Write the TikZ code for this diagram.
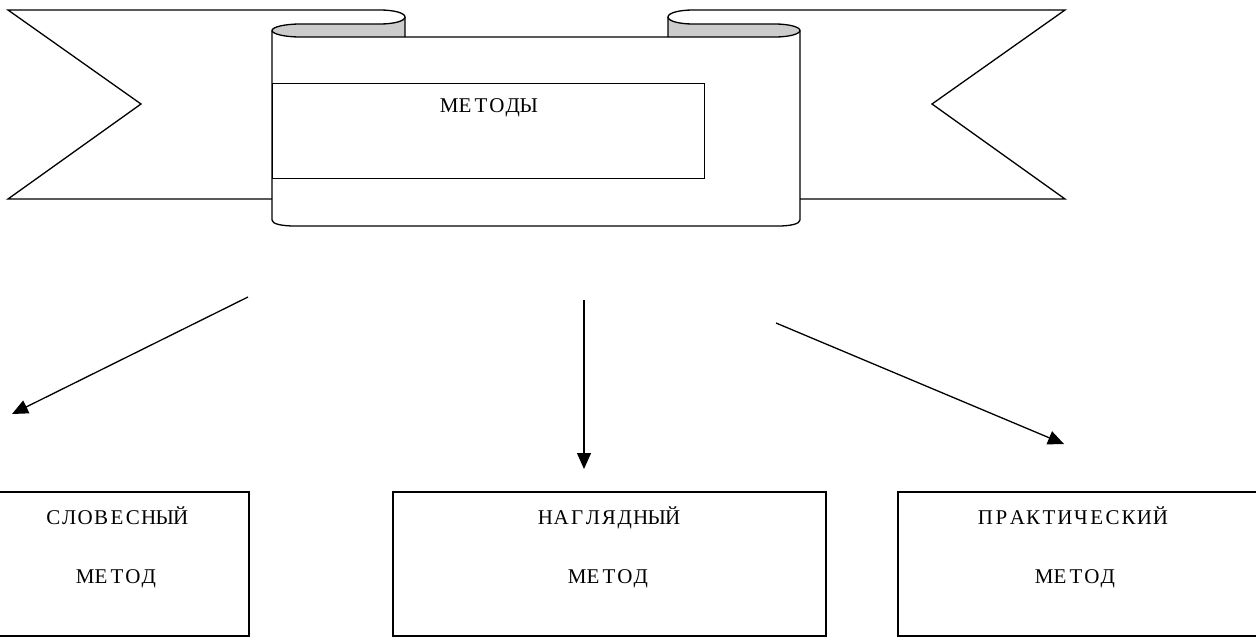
\documentclass[tikz,border=0pt]{standalone}
\usepackage{fontspec}
\usetikzlibrary{arrows.meta}
\newfontfamily\labelfont{Liberation Serif}
% typewriter-like setting: every letter sits in a cell of the same width
\newcommand\typed[1]{\typedloop#1\relax}
\def\typedloop#1{\ifx#1\relax\else\makebox[15.9pt]{#1}\expandafter\typedloop\fi}
\begin{document}
\begin{tikzpicture}[x=1pt,y=-1pt,line width=1.3pt,line join=miter,
  lbl/.style={font=\labelfont\fontsize{21}{25}\selectfont,anchor=base,inner sep=0pt},
  box/.style={draw,line width=1.5pt,inner sep=0pt,anchor=north west},
  arr/.style={-{Triangle[length=16pt,width=14pt]},line width=1.3pt},
  curl/.style={fill=black!20,draw=none}]
\useasboundingbox (0,0) rectangle (1256,637);

% rolled-up ends of the scroll
\fill[curl] (405,17) .. controls (405,21) and (394,24) .. (380,24) -- (300,24)
  .. controls (285,24) and (272,27) .. (272,30.5)
  .. controls (272,34) and (285,37) .. (300,37) -- (405,37) -- cycle;
\fill[curl] (668,17) .. controls (668,21) and (679,24) .. (693,24) -- (775,24)
  .. controls (789,24) and (800,27) .. (800,30.5)
  .. controls (800,34) and (789,37) .. (775,37) -- (668,37) -- cycle;

% left wing of the ribbon
\draw (272,199) -- (8,199) -- (141,104) -- (8,10) -- (380,10)
  .. controls (394,10) and (405,13) .. (405,17) -- (405,37);
\draw (405,17) .. controls (405,21) and (394,24) .. (380,24) -- (300,24)
  .. controls (285,24) and (272,27) .. (272,30.5)
  .. controls (272,34) and (285,37) .. (300,37) -- (668,37);

% right wing of the ribbon
\draw (800,199) -- (1065,199) -- (932,104) -- (1065,10) -- (693,10)
  .. controls (679,10) and (668,13) .. (668,17) -- (668,37);
\draw (668,17) .. controls (668,21) and (679,24) .. (693,24) -- (775,24)
  .. controls (789,24) and (800,27) .. (800,30.5)
  .. controls (800,34) and (789,37) .. (775,37) -- (668,37);

% body of the scroll
\draw (272,30.5) -- (272,220) .. controls (272,224) and (282,226) .. (295,226)
  -- (778,226) .. controls (790,226) and (800,224) .. (800,220) -- (800,30.5);

% title panel
\node[box,line width=1.3pt,minimum width=432pt,minimum height=95pt] (title) at (272,83) {};
\node[lbl] (titletext) at (489,112) {\typed{МЕТОДЫ}};

% method boxes
\node[box,minimum width=264pt,minimum height=144pt] (verbal) at (-16,491) {};
\node[box,minimum width=433pt,minimum height=144pt] (visual) at (392,491) {};
\node[box,minimum width=400pt,minimum height=144pt] (practical) at (897,491) {};

\node[lbl] (verbal1) at (117,524) {\typed{СЛОВЕСНЫЙ}};
\node[lbl] (verbal2) at (117,583) {\typed{МЕТОД}};
\node[lbl] (visual1) at (609,524) {\typed{НАГЛЯДНЫЙ}};
\node[lbl] (visual2) at (609,583) {\typed{МЕТОД}};
\node[lbl] (practical1) at (1073,524) {\typed{ПРАКТИЧЕСКИЙ}};
\node[lbl] (practical2) at (1076,583) {\typed{МЕТОД}};

% arrows from the scroll to the methods
\coordinate (s1) at (248,297);
\coordinate (t1) at (12,414);
\coordinate (s2) at (584,300);
\coordinate (t2) at (584,469);
\coordinate (s3) at (776,323);
\coordinate (t3) at (1064,444);
\draw[arr] (s1) -- (t1);
\draw[arr] (s2) -- (t2);
\draw[arr] (s3) -- (t3);
\end{tikzpicture}
\end{document}
